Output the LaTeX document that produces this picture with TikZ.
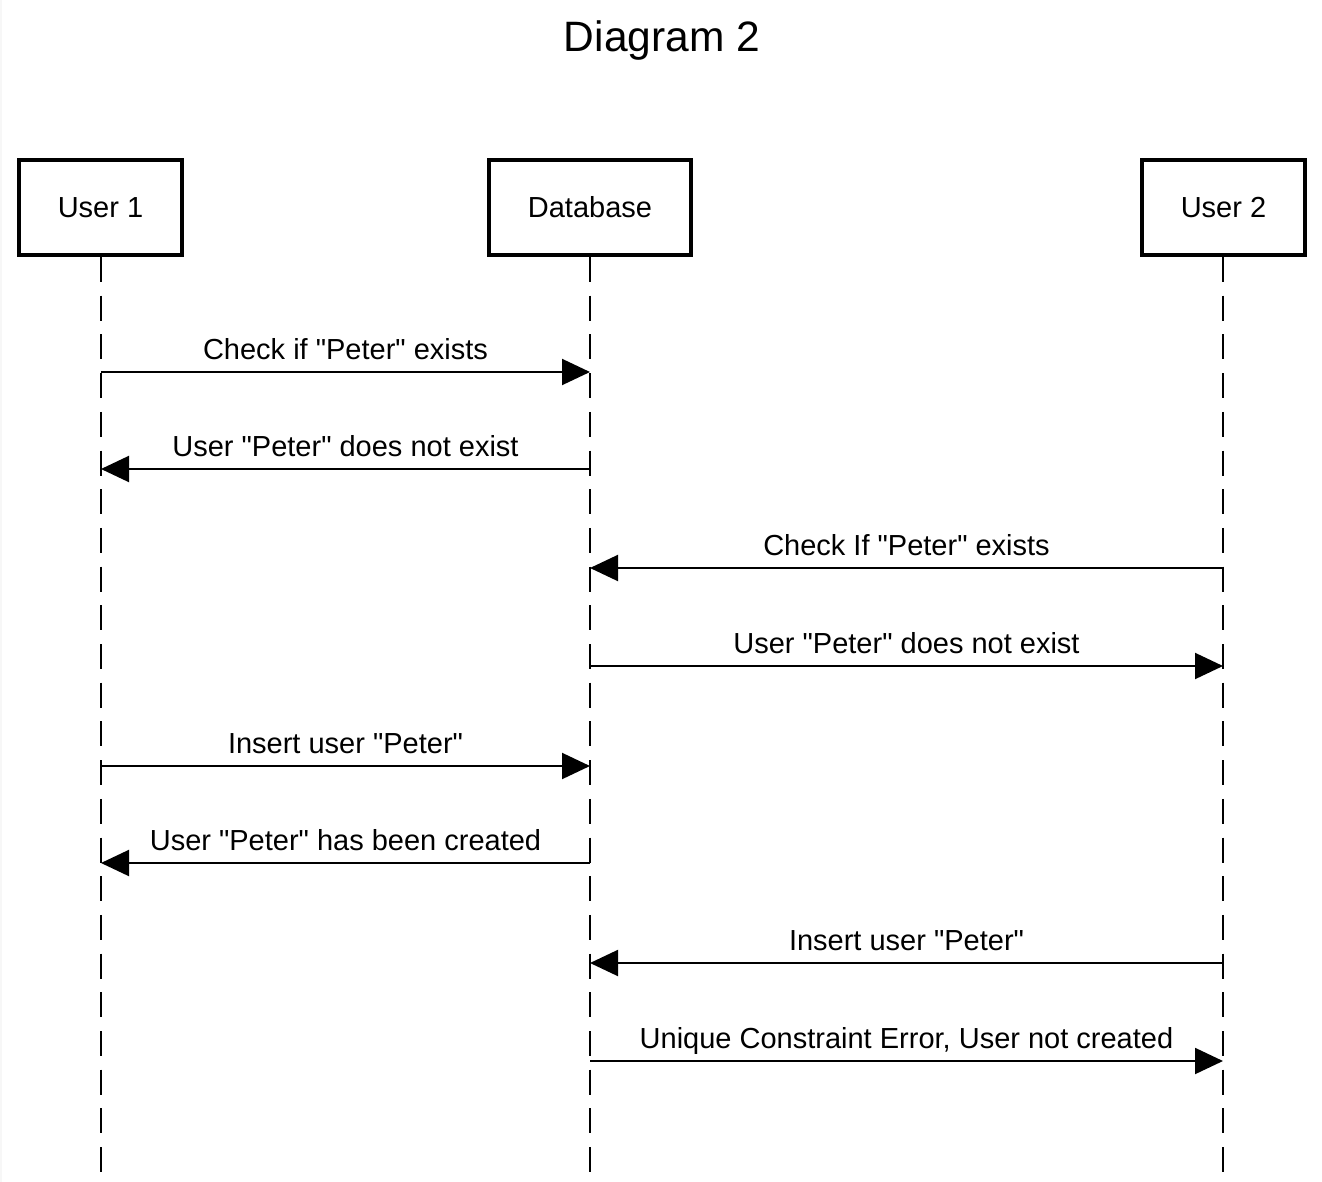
\documentclass[tikz,border=0pt]{standalone}
\usepackage{fontspec}
\setmainfont{Liberation Sans}[Ligatures=TeXOff]
\usetikzlibrary{arrows.meta}
\tikzset{
  actor/.style={draw, line width=4pt, minimum width=163pt, minimum height=95pt, inner sep=0pt, font=\fontsize{29}{33}\selectfont},
  lifeline/.style={line width=2pt, dash pattern=on 25pt off 13.7pt},
  msg/.style={line width=2pt, -{Triangle[length=28pt,width=26pt]}},
  msglabel/.style={anchor=base, inner sep=0pt, yshift=13pt, font=\fontsize{29}{33}\selectfont},
}
\begin{document}
\begin{tikzpicture}[x=1pt, y=-1pt]
\useasboundingbox (0,0) rectangle (1322,1182);
\fill[gray!6] (0,0) rectangle (2,1182);
\node[anchor=base, inner sep=0pt, font=\fontsize{42.5}{48}\selectfont] (title) at (662,52) {Diagram 2};
\node[actor] (u1) at (100.5,207.5) {\raisebox{-2pt}{User 1}};
\node[actor, minimum width=202pt] (db) at (590,207.5) {\raisebox{-2pt}{Database}};
\node[actor] (u2) at (1223.5,207.5) {\raisebox{-2pt}{User 2}};
\coordinate (u1e) at (101,1173);
\coordinate (dbe) at (590,1173);
\coordinate (u2e) at (1223,1173);
\draw[lifeline] (u1.south -| u1e) -- (u1e);
\draw[lifeline] (db.south -| dbe) -- (dbe);
\draw[lifeline] (u2.south -| u2e) -- (u2e);
\coordinate (r1) at (0,372);
\coordinate (r2) at (0,469);
\coordinate (r3) at (0,568);
\coordinate (r4) at (0,666);
\coordinate (r5) at (0,766);
\coordinate (r6) at (0,863);
\coordinate (r7) at (0,963);
\coordinate (r8) at (0,1061);
\draw[msg] (u1e |- r1) -- node[msglabel] {Check if "Peter" exists} (dbe |- r1);
\draw[msg] (dbe |- r2) -- node[msglabel] {User "Peter" does not exist} (u1e |- r2);
\draw[msg] (u2e |- r3) -- node[msglabel] {Check If "Peter" exists} (dbe |- r3);
\draw[msg] (dbe |- r4) -- node[msglabel] {User "Peter" does not exist} (u2e |- r4);
\draw[msg] (u1e |- r5) -- node[msglabel] {Insert user "Peter"} (dbe |- r5);
\draw[msg] (dbe |- r6) -- node[msglabel] {User "Peter" has been created} (u1e |- r6);
\draw[msg] (u2e |- r7) -- node[msglabel] {Insert user "Peter"} (dbe |- r7);
\draw[msg] (dbe |- r8) -- node[msglabel] {Unique Constraint Error, User not created} (u2e |- r8);
\end{tikzpicture}
\end{document}
